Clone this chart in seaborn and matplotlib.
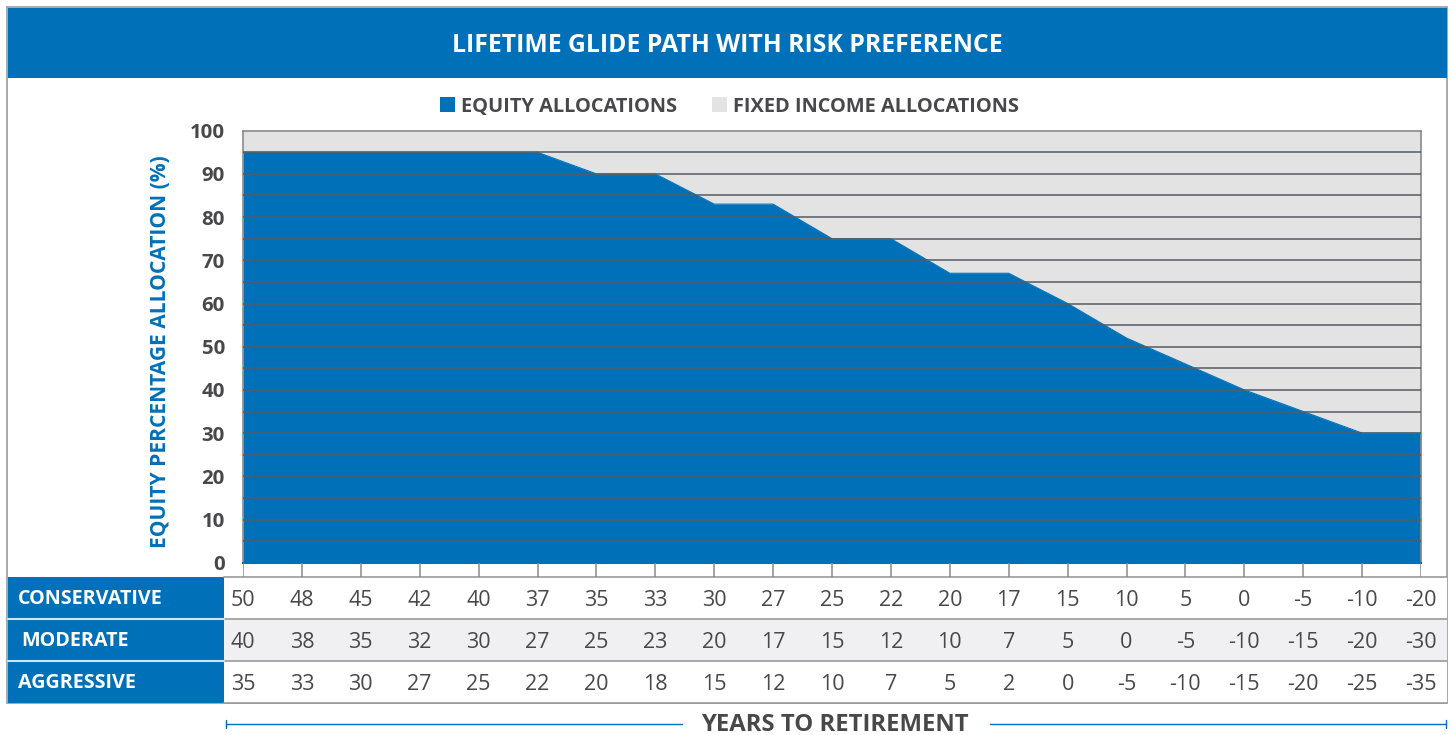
import numpy as np
import pandas as pd
import matplotlib
matplotlib.use("Agg")
import matplotlib.pyplot as plt
import seaborn as sns
from matplotlib.patches import Rectangle

# ---------------- data ----------------
title = "LIFETIME GLIDE PATH WITH RISK PREFERENCE"
equity = [95, 95, 95, 95, 95, 95, 90, 90, 83, 83, 75, 75, 67, 67, 60, 52, 46, 40, 35, 30, 30]
conservative = [50, 48, 45, 42, 40, 37, 35, 33, 30, 27, 25, 22, 20, 17, 15, 10, 5, 0, -5, -10, -20]
moderate = [40, 38, 35, 32, 30, 27, 25, 23, 20, 17, 15, 12, 10, 7, 5, 0, -5, -10, -15, -20, -30]
aggressive = [35, 33, 30, 27, 25, 22, 20, 18, 15, 12, 10, 7, 5, 2, 0, -5, -10, -15, -20, -25, -35]
row_labels = ["CONSERVATIVE", "MODERATE", "AGGRESSIVE"]
legend_labels = ["EQUITY ALLOCATIONS", "FIXED INCOME ALLOCATIONS"]
y_ticks = [0, 10, 20, 30, 40, 50, 60, 70, 80, 90, 100]
ylabel = "EQUITY PERCENTAGE ALLOCATION (%)"
xlabel = "YEARS TO RETIREMENT"

BLUE = "#0070b8"
GRAY_FILL = "#e3e3e3"
DARK = "#48484a"
LINE = "#545c64"

sns.set_theme(style="white")
plt.rcParams["font.family"] = ["Open Sans", "DejaVu Sans"]

W, H = 1452, 735
fig = plt.figure(figsize=(W / 100, H / 100), dpi=100)

def fx(px):
    return px / W

def fy(py):
    return 1 - py / H

# background overlay in pixel coordinates
bg = fig.add_axes([0, 0, 1, 1], zorder=0)
bg.set_xlim(0, W)
bg.set_ylim(H, 0)
bg.axis("off")

# outer frame and header
bg.add_patch(Rectangle((7, 7), 1440, 696, facecolor="white", edgecolor="#9a9a9a", lw=1.2))
bg.add_patch(Rectangle((8, 8), 1439, 70, facecolor=BLUE, edgecolor="none"))
bg.text(727, 45, title, color="white", fontsize=17.8, fontweight="bold", ha="center", va="center")

# legend
bg.add_patch(Rectangle((440, 97), 15, 15, facecolor=BLUE, edgecolor="none"))
bg.text(461, 106.5, legend_labels[0], color=DARK, fontsize=14.4, fontweight="bold", ha="left", va="center")
bg.add_patch(Rectangle((712, 97), 15, 15, facecolor=GRAY_FILL, edgecolor="none"))
bg.text(733, 106.5, legend_labels[1], color=DARK, fontsize=14.4, fontweight="bold", ha="left", va="center")

# y label
bg.text(160, 352, ylabel, color=BLUE, fontsize=15.1, fontweight="bold", rotation=90, ha="center", va="center")

# table backgrounds
row_tops = [577, 619, 661]
row_h = 42
for i, top in enumerate(row_tops):
    face = "#f0f0f2" if i == 1 else "white"
    bg.add_patch(Rectangle((224, top), 1223, row_h, facecolor=face, edgecolor="none"))
    bg.add_patch(Rectangle((8, top), 216, row_h, facecolor=BLUE, edgecolor="none"))
    bg.text(18 if i != 1 else 21, top + row_h / 2 + 1.5, row_labels[i], color="white", fontsize=14.2,
            fontweight="bold", ha="left", va="center")
for y in [577, 619, 661, 703]:
    bg.plot([224, 1447], [y, y], color="#9a9a9a", lw=1.2)
for y in [619, 661]:
    bg.plot([8, 224], [y, y], color="#cfe3f2", lw=1.5)

# bottom axis title
bg.text(835, 725, xlabel, color=DARK, fontsize=17.2, fontweight="bold", ha="center", va="center")
bg.plot([226, 682], [724, 724], color=BLUE, lw=1)
bg.plot([990, 1446], [724, 724], color=BLUE, lw=1)
bg.plot([226, 226], [720, 728], color=BLUE, lw=1)
bg.plot([1446, 1446], [720, 728], color=BLUE, lw=1)

# ---------------- main area chart ----------------
left, right, top, bottom = 243, 1421, 130.7, 562.7
ax = fig.add_axes([fx(left), fy(bottom), fx(right - left), fy(top) - fy(bottom)], zorder=2)
x = np.arange(len(equity))
df = pd.DataFrame({"x": x, "equity": equity})
ax.fill_between(df["x"], df["equity"], 100, color=GRAY_FILL, lw=0, zorder=1)
ax.fill_between(df["x"], 0, df["equity"], color=BLUE, lw=0, zorder=2)
sns.lineplot(data=df, x="x", y="equity", ax=ax, color=BLUE, lw=0.8, zorder=3)
for g in np.arange(5, 100, 5):
    ax.axhline(g, color=LINE, lw=1.1, zorder=4)
ax.set_xlim(0, len(equity) - 1)
ax.set_ylim(0, 100)
ax.set_yticks(y_ticks)
ax.set_yticklabels([str(v) for v in y_ticks], fontsize=14.7, fontweight="bold", color=DARK)
ax.tick_params(axis="y", length=0, pad=13)
ax.set_xticks([])
ax.set_xlabel("")
ax.set_ylabel("")
for s in ["top", "left", "right"]:
    ax.spines[s].set_color("#8a8a8a")
    ax.spines[s].set_linewidth(1.2)
ax.spines["right"].set_visible(True)
ax.spines["bottom"].set_color(BLUE)
ax.spines["bottom"].set_linewidth(1.5)

# ---------------- table axis sharing x ----------------
tab = fig.add_axes([fx(left), fy(703), fx(right - left), fy(bottom) - fy(703)], zorder=3)
tab.set_xlim(ax.get_xlim())
tab.set_ylim(703, bottom)
tab.axis("off")
tab.vlines(x, bottom, 577, color="#8a8a8a", lw=1.1)
for vals, top_ in zip([conservative, moderate, aggressive], row_tops):
    for xi, v in zip(x, vals):
        tab.text(xi, top_ + row_h / 2 + 2.5, str(v), color=DARK, fontsize=15.5, ha="center", va="center",
                 clip_on=False)

fig.savefig("out.png", dpi=100)
